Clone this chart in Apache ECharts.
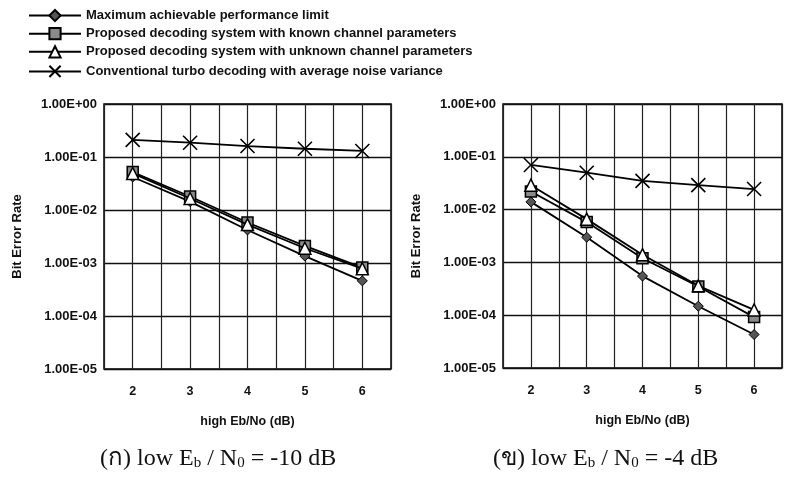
<!DOCTYPE html>
<html>
<head>
<meta charset="utf-8">
<script src="https://cdn.jsdelivr.net/npm/echarts@6/dist/echarts.min.js"></script>
<style>
  html, body { margin: 0; padding: 0; background: #fff; }
  #chart { width: 785px; height: 479px; }
</style>
</head>
<body>
<div id="chart"></div>
<script>
var ebno = [2, 3, 4, 5, 6];
var seriesNames = [
  'Maximum achievable performance limit',
  'Proposed decoding system with known channel parameters',
  'Proposed decoding system with unknown channel parameters',
  'Conventional turbo decoding with average noise variance'
];

// (a) low Eb/N0 = -10 dB
var limitA = [0.042, 0.0144, 0.0042, 0.00135, 0.00046];
var knownA = [0.052, 0.018, 0.0058, 0.0021, 0.00082];
var unknownA = [0.049, 0.0165, 0.0053, 0.0019, 0.00078];
var convA = [0.21, 0.186, 0.161, 0.143, 0.13];

// (b) low Eb/N0 = -4 dB
var limitB = [0.014, 0.003, 0.00055, 0.000148, 0.000043];
var knownB = [0.022, 0.0058, 0.0012, 0.00035, 0.000092];
var unknownB = [0.029, 0.0066, 0.0014, 0.00036, 0.000126];
var convB = [0.07, 0.05, 0.035, 0.029, 0.0245];

var xTicks = [2, 3, 4, 5, 6];

var chart = echarts.init(document.getElementById('chart'));

function pairs(vals) {
  return ebno.map(function (x, i) { return [x, vals[i]]; });
}

var crossPath = 'path://M0,0L10,10M10,0L0,10';
var styles = [
  { symbol: 'diamond', symbolSize: 10, itemStyle: { color: '#555', borderColor: '#000', borderWidth: 1 } },
  { symbol: 'rect', symbolSize: 11, itemStyle: { color: '#8a8a8a', borderColor: '#000', borderWidth: 1.5 } },
  { symbol: 'triangle', symbolSize: 12, itemStyle: { color: '#fff', borderColor: '#000', borderWidth: 1.5 } },
  { symbol: crossPath, symbolSize: 14, itemStyle: { color: 'none', borderColor: '#000', borderWidth: 1.6 } }
];

function makeSeries(idx, vals, name) {
  var s = styles[name];
  return {
    name: seriesNames[name],
    type: 'line',
    xAxisIndex: idx,
    yAxisIndex: idx,
    data: pairs(vals),
    symbol: s.symbol,
    symbolSize: s.symbolSize,
    itemStyle: s.itemStyle,
    lineStyle: { color: '#000', width: 1.8 },
    animation: false,
    z: 3 + name
  };
}

function expLabel(v) {
  var e = Math.round(Math.log10(v));
  var sign = e < 0 ? '-' : '+';
  var a = Math.abs(e);
  return '1.00E' + sign + (a < 10 ? '0' + a : a);
}

function xAxisDef(idx) {
  return {
    type: 'value',
    gridIndex: idx,
    min: 1.5,
    max: 6.5,
    interval: 0.5,
    name: 'high Eb/No (dB)',
    nameLocation: 'middle',
    nameGap: 46,
    nameTextStyle: { fontFamily: 'Liberation Sans', fontWeight: 'bold', fontSize: 12.5, color: '#111' },
    axisLine: { show: false },
    axisTick: { show: false },
    axisLabel: {
      margin: 16,
      fontFamily: 'Liberation Sans', fontWeight: 'bold', fontSize: 12.5, color: '#111',
      formatter: function (v) { return xTicks.indexOf(v) >= 0 ? String(v) : ''; }
    },
    splitLine: { show: true, lineStyle: { color: '#222', width: 1.2 } }
  };
}

function yAxisDef(idx) {
  return {
    type: 'log',
    logBase: 10,
    gridIndex: idx,
    min: 1e-5,
    max: 1,
    name: 'Bit Error Rate',
    nameLocation: 'middle',
    nameGap: 80,
    nameTextStyle: { fontFamily: 'Liberation Sans', fontWeight: 'bold', fontSize: 13, color: '#111' },
    axisLine: { show: false },
    axisTick: { show: false },
    axisLabel: {
      margin: 7,
      fontFamily: 'Liberation Sans', fontWeight: 'bold', fontSize: 13, color: '#111',
      formatter: expLabel
    },
    splitLine: { show: true, lineStyle: { color: '#111', width: 1.3 } }
  };
}

var capFont = "'Liberation Serif', 'DejaVu Serif', serif";
function caption(x, label, value) {
  return {
    type: 'text',
    left: x,
    top: 447,
    style: {
      text: label + ' low E{s|b} / N{s|0} = ' + value + ' dB',
      font: '24px ' + capFont,
      fill: '#111',
      rich: {
        s: { fontSize: 15, fontFamily: capFont, verticalAlign: 'bottom', lineHeight: 8, fill: '#111' }
      }
    }
  };
}

var option = {
  backgroundColor: '#fff',
  animation: false,
  legend: {
    orient: 'vertical',
    left: 28,
    top: 9,
    padding: 0,
    itemWidth: 52,
    itemHeight: 14,
    itemGap: 4.9,
    textStyle: { fontFamily: 'Liberation Sans', fontWeight: 'bold', fontSize: 13, color: '#111' },
    data: seriesNames
  },
  grid: [
    { left: 104, top: 104, width: 287, height: 265, show: true, borderColor: '#000', borderWidth: 1.5, backgroundColor: 'transparent' },
    { left: 503, top: 104, width: 283, height: 264, show: true, borderColor: '#000', borderWidth: 1.5, backgroundColor: 'transparent' }
  ],
  xAxis: [xAxisDef(0), xAxisDef(1)],
  yAxis: [yAxisDef(0), yAxisDef(1)],
  series: [
    makeSeries(0, convA, 3),
    makeSeries(0, unknownA, 2),
    makeSeries(0, knownA, 1),
    makeSeries(0, limitA, 0),
    makeSeries(1, convB, 3),
    makeSeries(1, unknownB, 2),
    makeSeries(1, knownB, 1),
    makeSeries(1, limitB, 0)
  ],
  graphic: [
    caption(100, '(ก)', '-10'),
    caption(493, '(ข)', '-4')
  ]
};

chart.setOption(option);
</script>
</body>
</html>
